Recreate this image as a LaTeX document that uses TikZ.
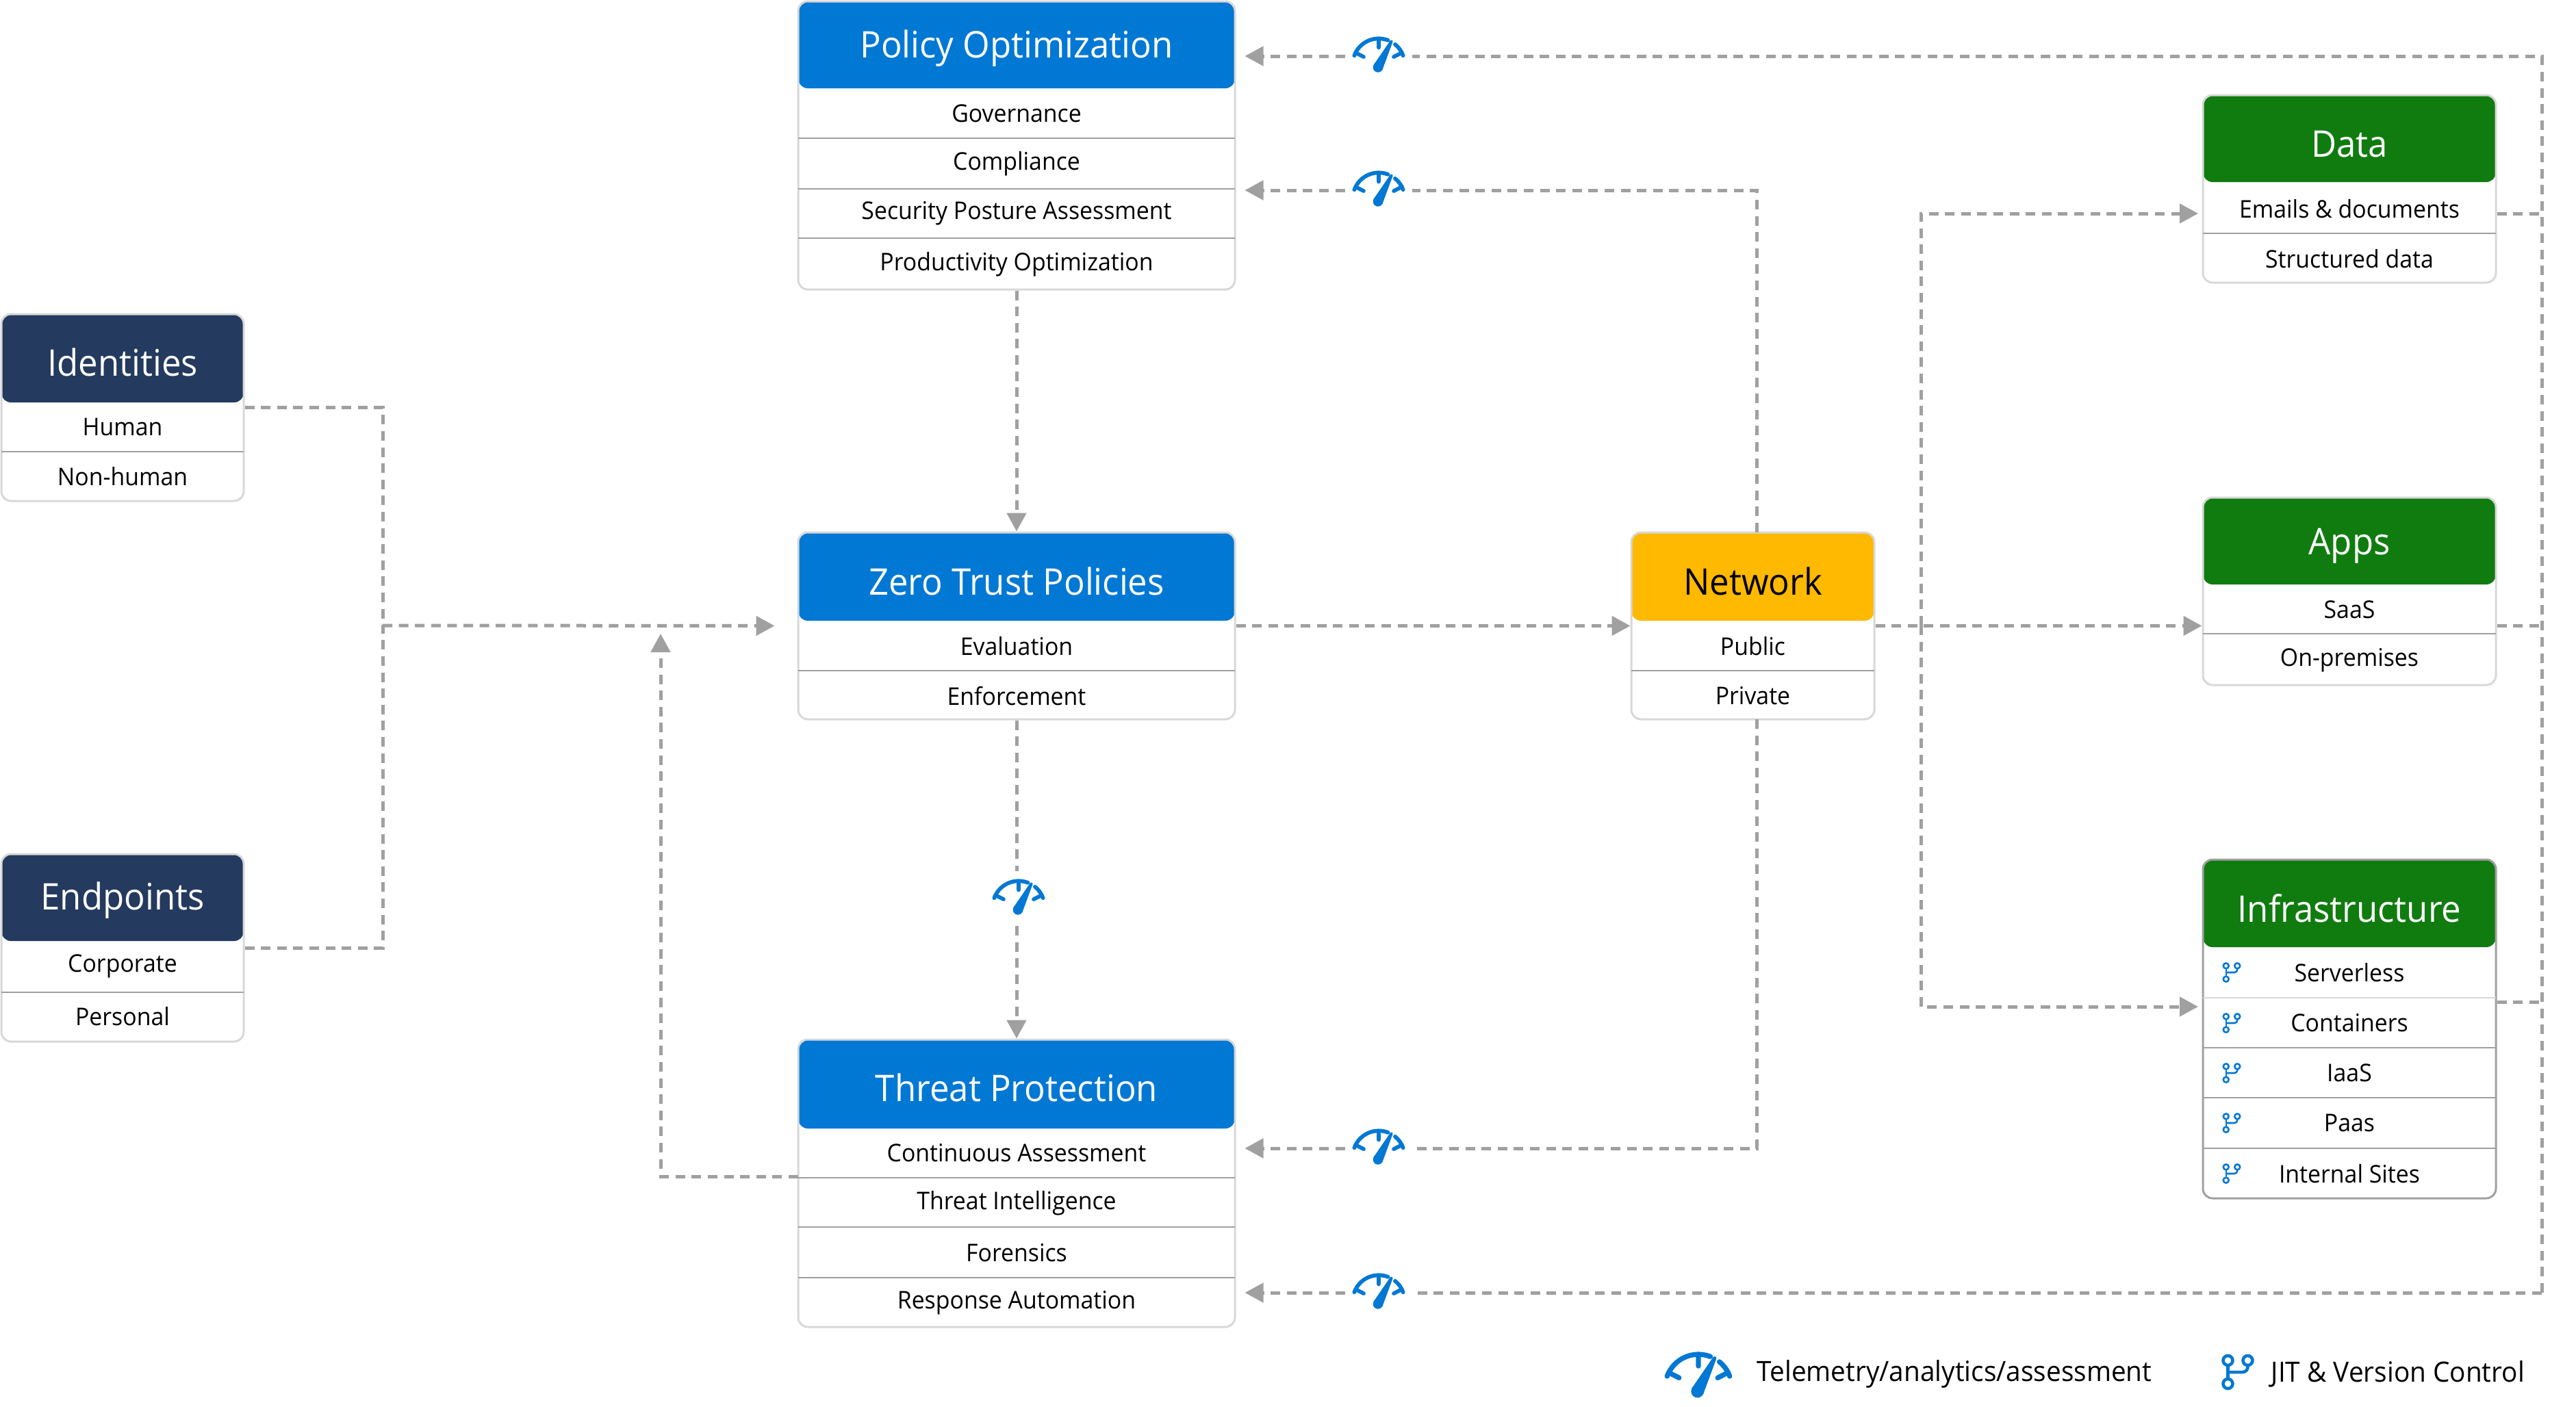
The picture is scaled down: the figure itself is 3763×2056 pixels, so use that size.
\documentclass[tikz,border=0pt]{standalone}
\usepackage{fontspec}
\usetikzlibrary{arrows.meta}
\setmainfont{Open Sans}[FakeStretch=0.95]
\definecolor{azureBlue}{RGB}{0,120,212}
\definecolor{deepNavy}{RGB}{36,58,94}
\definecolor{leafGreen}{RGB}{16,124,16}
\definecolor{netYellow}{RGB}{255,185,0}
\definecolor{softGray}{RGB}{216,216,216}
\definecolor{lineGray}{RGB}{160,160,160}
\def\px{0.25pt}
\newcommand{\gaugeicon}[1]{\tikz[x=#1,y=#1]{
  \path (0,-65) -- (0,157);
  \draw[azureBlue,line width=22*#1,line cap=round] (160:146) arc[start angle=160,end angle=69,radius=146];
  \draw[azureBlue,line width=22*#1,line cap=round] (51:146) arc[start angle=51,end angle=20,radius=146];
  \draw[azureBlue,line width=22*#1,line cap=round] (153:146) -- (153:95) (90:146) -- (90:95) (27:146) -- (27:95);
  \fill[azureBlue] (-4,-16) circle (28) (71,129) circle (8);
  \fill[azureBlue] (-29,-3) -- (64,133) -- (78,125) -- (21,-29) -- cycle;
}}
\newcommand{\branchicon}[1]{\tikz[x=#1,y=-#1]{
  \draw[azureBlue,line width=18*#1] (0,0) circle (28) (116,0) circle (28) (0,136) circle (28);
  \draw[azureBlue,line width=18*#1] (0,28) -- (0,108);
  \draw[azureBlue,line width=18*#1,rounded corners=30*#1] (116,28) -- (116,68) -- (0,68);
}}
\tikzset{
  panel/.style n args={2}{draw=softGray,line width=0.75pt,fill=white,rounded corners=3.5pt,inner sep=0pt,
    path picture={\fill[#1] (path picture bounding box.north west) rectangle ([yshift=-#2*\px]path picture bounding box.north east);}},
  title/.style={text=white,font=\fontsize{13.4}{16}\selectfont},
  item/.style={text=black,font=\fontsize{8.9}{11}\selectfont,inner sep=0pt},
  rowline/.style={draw=lineGray,line width=0.6pt},
  flow/.style={draw=lineGray,line width=1.25pt,dash pattern=on 3.5pt off 2.4pt},
  flowtip/.style={flow,-{Triangle[length=6.75pt,width=7pt]}},
  gaugebox/.style={fill=white,inner sep=2.5pt}
}
\begin{document}
\begin{tikzpicture}[x=0.25pt,y=-0.25pt]
\useasboundingbox (0,0) rectangle (3763,2056);

% Policy Optimization
\node[panel={azureBlue}{127},minimum width=638*\px,minimum height=421*\px] (po) at (1485,212.5) {};
\node[title] (poT) at (1485,71) {Policy Optimization};
\foreach \y/\t [count=\i] in {166/Governance,239/Compliance,312/Security Posture Assessment,386/Productivity Optimization}
  \node[item] (po\i) at (1485,\y) {\t};
\foreach \y in {202,276,348} \draw[rowline] (1166,\y) -- (1804,\y);

% Zero Trust Policies
\node[panel={azureBlue}{129},minimum width=638*\px,minimum height=273*\px] (zt) at (1485,914.5) {};
\node[title] (ztT) at (1485,849) {Zero Trust Policies};
\foreach \y/\t [count=\i] in {944/Evaluation,1017/Enforcement}
  \node[item] (zt\i) at (1485,\y) {\t};
\draw[rowline] (1166,980) -- (1804,980);

% Threat Protection
\node[panel={azureBlue}{130},minimum width=638*\px,minimum height=420*\px] (tp) at (1485,1729) {};
\node[title] (tpT) at (1485,1589) {Threat Protection};
\foreach \y/\t [count=\i] in {1685/Continuous Assessment,1758/Threat Intelligence,1831/Forensics,1904/Response Automation}
  \node[item] (tp\i) at (1485,\y) {\t};
\foreach \y in {1721,1793,1867} \draw[rowline] (1166,\y) -- (1804,\y);

% Identities and endpoints
\node[panel={deepNavy}{129},minimum width=354*\px,minimum height=273*\px] (id) at (179,595.5) {};
\node[title] (idT) at (179,529) {Identities};
\foreach \y/\t [count=\i] in {624/Human,696/Non-human}
  \node[item] (id\i) at (179,\y) {\t};
\draw[rowline] (2,660) -- (356,660);

\node[panel={deepNavy}{127},minimum width=354*\px,minimum height=274*\px] (ep) at (179,1385) {};
\node[title] (epT) at (179,1316) {Endpoints};
\foreach \y/\t [count=\i] in {1412/Corporate,1485/Personal}
  \node[item] (ep\i) at (179,\y) {\t};
\draw[rowline] (2,1450) -- (356,1450);

% Network
\node[panel={netYellow}{129},minimum width=355*\px,minimum height=273*\px] (net) at (2560.5,914.5) {};
\node[title,text=black] (netT) at (2560.5,849) {Network};
\foreach \y/\t [count=\i] in {944/Public,1017/Private}
  \node[item] (net\i) at (2560.5,\y) {\t};
\draw[rowline] (2383,980) -- (2738,980);

% Data, apps, infrastructure
\node[panel={leafGreen}{127},minimum width=428*\px,minimum height=274*\px] (data) at (3432,276) {};
\node[title] (dataT) at (3432,211) {Data};
\foreach \y/\t [count=\i] in {305/Emails \& documents,378/Structured data}
  \node[item] (data\i) at (3432,\y) {\t};
\draw[rowline] (3218,341) -- (3646,341);

\node[panel={leafGreen}{127},minimum width=428*\px,minimum height=274*\px] (apps) at (3432,864) {};
\node[title] (appsT) at (3432,798) {Apps};
\foreach \y/\t [count=\i] in {891/SaaS,965/On-premises}
  \node[item] (apps\i) at (3432,\y) {\t};
\draw[rowline] (3218,926) -- (3646,926);

\node[panel={leafGreen}{128},draw=lineGray,minimum width=428*\px,minimum height=495*\px] (infra) at (3432,1503.5) {};
\node[title] (infraT) at (3432,1327) {Infrastructure};
\foreach \y/\t [count=\i] in {1421/Serverless,1495/Containers,1568/IaaS,1641/Paas,1715/Internal Sites} {
  \node[item] (infra\i) at (3432,\y) {\t};
  \node[inner sep=0pt] (branch\i) at (3260,\y) {\branchicon{0.0355pt}};
}
\draw[rowline,softGray] (3218,1458) -- (3646,1458);
\foreach \y in {1531,1604,1678} \draw[rowline] (3218,\y) -- (3646,\y);

% Telemetry gauges
\node[gaugebox] (gt1) at (2014,82) {\gaugeicon{0.065pt}};
\node[gaugebox] (gt2) at (2014,278) {\gaugeicon{0.065pt}};
\node[gaugebox] (gt3) at (2014,1678) {\gaugeicon{0.065pt}};
\node[gaugebox] (gt4) at (2014,1889) {\gaugeicon{0.065pt}};
\node[gaugebox] (gt5) at (1488,1313) {\gaugeicon{0.065pt}};

% Bus points
\coordinate (rbusTop) at (3713,82);
\coordinate (rbusBot) at (3713,1889);
\coordinate (idBus) at (559,914);
\coordinate (tpOut) at (1166,1719);
\coordinate (tpIn) at (965,926);
\coordinate (netTop) at (2566,778);
\coordinate (netBot) at (2566,1051);
\coordinate (split) at (2806,914);
\coordinate (dataIn) at (3211,312);
\coordinate (infraIn) at (3211,1471);

% Connections
\draw[flow] (rbusBot) -- (rbusTop) -- (gt1);
\draw[flowtip,shorten >=3.25pt] (gt1) -- (gt1 -| po.east);
\draw[flow] (netTop) |- (gt2);
\draw[flowtip,shorten >=3.25pt] (gt2) -- (gt2 -| po.east);
\draw[flow] (netBot) |- (gt3);
\draw[flowtip,shorten >=3.25pt] (gt3) -- (gt3 -| tp.east);
\draw[flow] (rbusBot) -- (gt4);
\draw[flowtip,shorten >=3.25pt] (gt4) -- (gt4 -| tp.east);
\draw[flowtip] (po.south) -- (zt.north);
\draw[flow] (zt.south) -- (zt.south |- gt5.north);
\draw[flowtip] (zt.south |- gt5.south) -- (tp.north);
\draw[flow] (id.east) -| (idBus);
\draw[flow] (ep.east) -| (idBus);
\draw[flowtip,shorten >=8.25pt] (idBus) -- (zt.west);
\draw[flowtip] (tpOut) -| (tpIn);
\draw[flowtip] (zt.east) -- (net.west);
\draw[flowtip] (net.east) -- (net.east -| apps.west);
\draw[flowtip] (split) |- (dataIn);
\draw[flowtip] (split) |- (infraIn);
\draw[flow] (data.east |- dataIn) -- (dataIn -| rbusTop);
\draw[flow] (apps.east |- split) -- (split -| rbusTop);
\draw[flow] (infra.east |- 0,1464) -- (rbusTop |- 0,1464);

% Legend
\node[inner sep=0pt] (lgGauge) at (2481,2012) {\gaugeicon{0.0833pt}};
\node[item,anchor=west,font=\fontsize{10.2}{12}\selectfont] (lgGaugeT) at (2566,2008) {Telemetry/analytics/assessment};
\node[inner sep=0pt] (lgBranch) at (3269,2005) {\branchicon{0.0625pt}};
\node[item,anchor=west,font=\fontsize{10.2}{12}\selectfont] (lgBranchT) at (3317,2008) {JIT \& Version Control};
\end{tikzpicture}
\end{document}
